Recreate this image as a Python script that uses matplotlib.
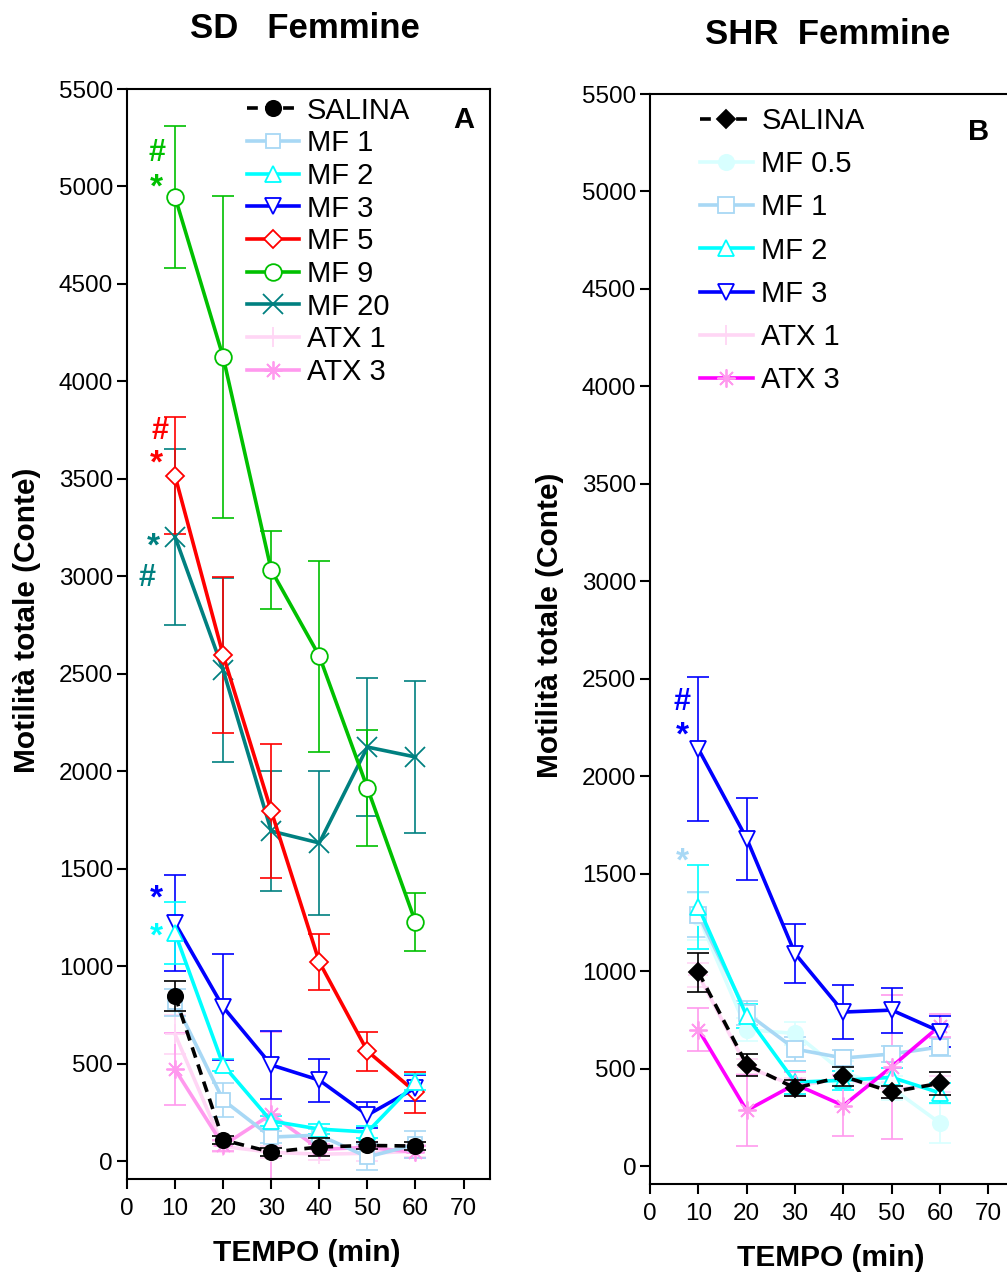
import numpy as np
import matplotlib.pyplot as plt
from matplotlib.lines import Line2D

plt.rcParams['font.family'] = ['Liberation Sans', 'DejaVu Sans']

# tempo (min)
tempo = [10, 20, 30, 40, 50, 60]

# ---- panel A: SD femmine ----
a_salina = [847, 108, 46, 72, 80, 77]
a_salina_err = [75, 20, 20, 44, 20, 20]
a_mf1 = [815, 313, 123, 133, 21, 85]
a_mf1_err = [70, 85, 30, 30, 65, 70]
a_mf2 = [1170, 493, 205, 164, 149, 405]
a_mf2_err = [160, 30, 25, 25, 30, 40]
a_mf3 = [1221, 790, 493, 415, 236, 375]
a_mf3_err = [245, 270, 175, 110, 65, 65]
a_mf5 = [3515, 2596, 1796, 1021, 564, 354]
a_mf5_err = [300, 400, 345, 145, 100, 105]
a_mf9 = [4946, 4125, 3032, 2591, 1914, 1226]
a_mf9_err = [365, 825, 200, 490, 300, 150]
a_mf20 = [3202, 2519, 1693, 1632, 2124, 2073]
a_mf20_err = [450, 470, 310, 370, 355, 390]
a_atx1 = [650, 75, 45, 35, 40, 50]
a_atx1_err = [100, 30, 30, 30, 40, 30]
a_atx3 = [470, 80, 240, 60, 70, 45]
a_atx3_err = [185, 30, 420, 30, 30, 30]

# ---- panel B: SHR femmine ----
b_salina = [995, 520, 400, 460, 380, 425]
b_salina_err = [100, 57, 40, 50, 30, 60]
b_mf05 = [1280, 700, 680, 480, 400, 220]
b_mf05_err = [120, 60, 60, 60, 60, 100]
b_mf1 = [1290, 785, 600, 554, 575, 611]
b_mf1_err = [115, 60, 60, 40, 40, 45]
b_mf2 = [1330, 770, 430, 440, 455, 375]
b_mf2_err = [215, 60, 60, 50, 50, 50]
b_mf3 = [2140, 1680, 1090, 790, 800, 690]
b_mf3_err = [370, 210, 150, 140, 115, 80]
b_atx1 = [980, 510, 410, 450, 390, 420]
b_atx1_err = [60, 40, 40, 40, 40, 40]
b_atx3 = [700, 285, 420, 310, 510, 720]
b_atx3_err = [110, 180, 60, 155, 370, 60]

# significance marks: (x, y, text, colour)
a_marks = [(6.2, 5190, '#', '#00c000'), (6.2, 5010, '*', '#00c000'),
           (6.9, 3766, '#', 'red'), (6.2, 3596, '*', 'red'),
           (5.4, 3170, '*', '#008080'), (4.2, 3010, '#', '#008080'),
           (6.2, 1360, '*', 'blue'), (6.2, 1165, '*', 'cyan')]
b_marks = [(6.6, 2400, '#', 'blue'), (6.6, 2225, '*', 'blue'),
           (6.8, 1575, '*', '#a8d8f5')]

LW = 2.6


def series(ax, y, err, label, color, marker, ms=10, mfc='white', mec=None,
           ls='-', ecolor=None, z=2):
    ax.errorbar(tempo, y, yerr=err, fmt='none', ecolor=ecolor or color,
                elinewidth=1.2, capsize=8, capthick=1.2, zorder=z)
    line, = ax.plot(tempo, y, color=color, lw=LW, ls=ls, marker=marker, ms=ms,
                    mfc=mfc, mec=mec or color, mew=1.3, label=label, zorder=z + 0.5)
    return line


def setup(ax):
    ax.set_xlim(0, 75.5)
    ax.set_ylim(-92, 5500)
    ax.set_xticks(range(0, 80, 10))
    ax.set_yticks(range(0, 5501, 500))
    ax.tick_params(direction='out', length=7, width=1.5, labelsize=17.5)
    ax.tick_params(axis='x', pad=7)
    ax.tick_params(axis='y', pad=3)
    for s in ax.spines.values():
        s.set_linewidth(1.5)
    ax.set_xlabel('TEMPO (min)', fontsize=21.5, fontweight='bold', va='center')
    ax.set_ylabel('Motilità totale (Conte)', fontsize=21.5, fontweight='bold', va='center')
    ax.xaxis.set_label_coords(0.495, -0.068)
    ax.yaxis.set_label_coords(-0.275, 0.513)


fig = plt.figure(figsize=(10.07, 12.79), dpi=100)
axA = fig.add_axes([0.1261, 0.0782, 0.3605, 0.8522])
axB = fig.add_axes([0.6455, 0.0743, 0.3625, 0.8522])

# panel A
hA = []
hA.append(series(axA, a_atx1, a_atx1_err, 'ATX 1', '#ffd6f5', '+', ms=14))
hA.append(series(axA, a_atx3, a_atx3_err, 'ATX 3', '#ff99ee', (8, 2, 0), ms=13))
hA.append(series(axA, a_mf1, a_mf1_err, 'MF 1', '#a8d8f5', 's', ms=10))
hA.append(series(axA, a_mf20, a_mf20_err, 'MF 20', '#008080', 'x', ms=14))
hA.append(series(axA, a_mf9, a_mf9_err, 'MF 9', '#00c000', 'o', ms=12))
hA.append(series(axA, a_mf5, a_mf5_err, 'MF 5', 'red', 'D', ms=9))
hA.append(series(axA, a_mf3, a_mf3_err, 'MF 3', 'blue', 'v', ms=12))
hA.append(series(axA, a_mf2, a_mf2_err, 'MF 2', 'cyan', '^', ms=12))
hA.append(series(axA, a_salina, a_salina_err, 'SALINA', 'black', 'o', ms=11,
                 mfc='black', ls=(0, (3, 2)), z=4))
orderA = ['SALINA', 'MF 1', 'MF 2', 'MF 3', 'MF 5', 'MF 9', 'MF 20', 'ATX 1', 'ATX 3']
hA = sorted(hA, key=lambda h: orderA.index(h.get_label()))
axA.legend(handles=hA, loc='upper left', bbox_to_anchor=(0.33, 0.993),
           frameon=False, fontsize=21, labelspacing=0.16, borderpad=0,
           borderaxespad=0, handlelength=1.8, handletextpad=0.25)

# panel B
hB = []
hB.append(series(axB, b_atx1, b_atx1_err, 'ATX 1', '#ffd6f5', '+', ms=14))
hB.append(series(axB, b_mf05, b_mf05_err, 'MF 0.5', '#d8ffff', 'o', ms=11,
                 mfc='#d8ffff'))
hB.append(series(axB, b_mf1, b_mf1_err, 'MF 1', '#a8d8f5', 's', ms=11))
hB.append(series(axB, b_mf2, b_mf2_err, 'MF 2', 'cyan', '^', ms=12))
hB.append(series(axB, b_atx3, b_atx3_err, 'ATX 3', '#ff00ff', (8, 2, 0), ms=13,
                 mec='#ff99ee', ecolor='#ff99ee'))
hB.append(series(axB, b_mf3, b_mf3_err, 'MF 3', 'blue', 'v', ms=12))
hB.append(series(axB, b_salina, b_salina_err, 'SALINA', 'black', 'D', ms=9,
                 mfc='black', ls=(0, (3, 2)), z=4))
orderB = ['SALINA', 'MF 0.5', 'MF 1', 'MF 2', 'MF 3', 'ATX 1', 'ATX 3']
hB = sorted(hB, key=lambda h: orderB.index(h.get_label()))
axB.legend(handles=hB, loc='upper left', bbox_to_anchor=(0.137, 0.988),
           frameon=False, fontsize=21, labelspacing=0.52, borderpad=0,
           borderaxespad=0, handlelength=1.8, handletextpad=0.3)

for ax, marks in ((axA, a_marks), (axB, b_marks)):
    setup(ax)
    for x, y, t, c in marks:
        ax.text(x, y, t, color=c, fontsize=24 if t == '*' else 22,
                fontweight='bold', ha='center', va='center_baseline')

axA.text(0.928, 0.972, 'A', transform=axA.transAxes, fontsize=21,
         fontweight='bold', ha='center', va='center')
axB.text(0.899, 0.965, 'B', transform=axB.transAxes, fontsize=21,
         fontweight='bold', ha='center', va='center')

fig.text(305 / 1007, 1 - 28 / 1279, 'SD   Femmine', fontsize=25,
         fontweight='bold', ha='center', va='center')
fig.text(828 / 1007, 1 - 34 / 1279, 'SHR  Femmine', fontsize=25,
         fontweight='bold', ha='center', va='center')

fig.savefig('out.png', dpi=100)
